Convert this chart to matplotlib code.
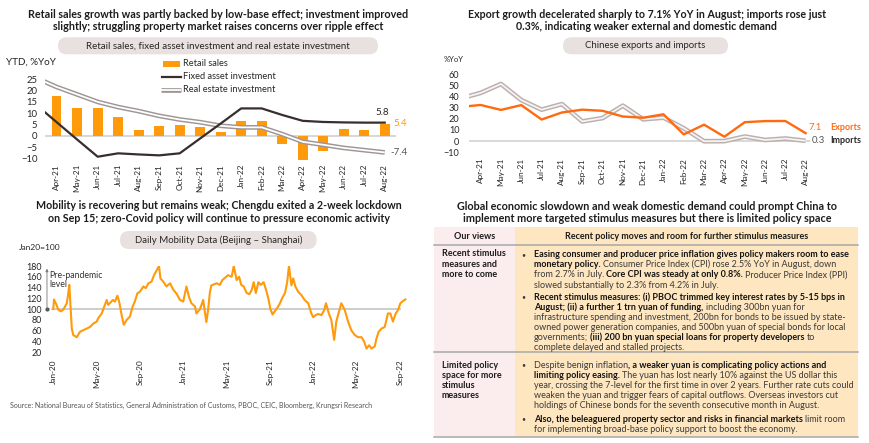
import matplotlib
matplotlib.use('Agg')
import matplotlib.pyplot as plt
import matplotlib.dates as mdates
from matplotlib.patches import FancyBboxPatch, Rectangle
from matplotlib.lines import Line2D
from matplotlib.transforms import IdentityTransform
import numpy as np
import pandas as pd

plt.rcParams['font.family'] = ['Lato', 'DejaVu Sans']

# ---------------- data ----------------
months_a = ['Apr-21', 'May-21', 'Jun-21', 'Jul-21', 'Aug-21', 'Sep-21', 'Oct-21', 'Nov-21',
            'Dec-21', 'Jan-22', 'Feb-22', 'Mar-22', 'Apr-22', 'May-22', 'Jun-22', 'Jul-22', 'Aug-22']
line_months = ['Mar-21'] + months_a

retail_sales = [17.7, 12.4, 12.1, 8.5, 2.5, 4.4, 4.9, 3.9, 1.7, 6.7, 6.7, -3.5, -10.8, -6.7, 3.1, 2.7, 5.4]
fixed_asset_inv = [13.7, 6.0, -1.7, -9.3, -7.8, -8.3, -8.7, -7.8, -1.2, 5.4, 12.1, 12.1, 9.2, 6.6, 6.1, 5.9, 5.8, 5.8]
real_estate_inv = [25.6, 21.6, 18.3, 15.0, 12.7, 10.9, 8.8, 7.2, 6.0, 4.4, 3.7, 3.7, 0.7, -2.7, -4.0, -5.4, -6.4, -7.4]

exports = [30.6, 32.3, 27.9, 32.2, 19.3, 25.6, 28.1, 27.1, 22.0, 20.9, 24.0, 6.0, 14.7, 3.9, 16.9, 17.9, 18.0, 7.1]
imports = [38.1, 43.1, 51.1, 36.7, 28.1, 33.1, 17.6, 20.6, 31.7, 19.5, 21.0, 11.5, -0.1, 0.0, 4.1, 1.0, 2.3, 0.3]

mob_dates = [
    '2020-01-01', '2020-01-03', '2020-01-10', '2020-01-15', '2020-01-22', '2020-01-29', '2020-02-08',
    '2020-02-12', '2020-02-15', '2020-02-19', '2020-02-22', '2020-02-26', '2020-03-07', '2020-03-16',
    '2020-03-25', '2020-04-04', '2020-04-13', '2020-04-22', '2020-05-02', '2020-05-06', '2020-05-16',
    '2020-05-20', '2020-05-25', '2020-05-30', '2020-06-03', '2020-06-08', '2020-06-16', '2020-06-22',
    '2020-06-29', '2020-07-04', '2020-07-11', '2020-07-17', '2020-07-25', '2020-08-03', '2020-08-11',
    '2020-08-17', '2020-08-24', '2020-08-31', '2020-09-10', '2020-09-17', '2020-09-24', '2020-10-03',
    '2020-10-10', '2020-10-15', '2020-10-24', '2020-10-28', '2020-11-05', '2020-11-14', '2020-11-24',
    '2020-12-03', '2020-12-12', '2020-12-22', '2020-12-31', '2021-01-09', '2021-01-16', '2021-01-23',
    '2021-02-02', '2021-02-06', '2021-02-16', '2021-02-25', '2021-03-04', '2021-03-06', '2021-03-11',
    '2021-03-16', '2021-03-20', '2021-04-04', '2021-04-13', '2021-04-20', '2021-05-06', '2021-05-16',
    '2021-05-22', '2021-05-30', '2021-06-06', '2021-06-12', '2021-06-19', '2021-06-27', '2021-07-05',
    '2021-07-11', '2021-07-17', '2021-07-23', '2021-07-30', '2021-08-06', '2021-08-14', '2021-08-21',
    '2021-08-27', '2021-09-02', '2021-09-08', '2021-09-13', '2021-09-21', '2021-09-28', '2021-10-06',
    '2021-10-13', '2021-10-19', '2021-10-24', '2021-10-31', '2021-11-05', '2021-11-11', '2021-11-19',
    '2021-11-28', '2021-12-07', '2021-12-17', '2021-12-26', '2021-12-31', '2022-01-07', '2022-01-14',
    '2022-01-23', '2022-01-31', '2022-02-05', '2022-02-13', '2022-02-20', '2022-02-28', '2022-03-06',
    '2022-03-20', '2022-03-30', '2022-04-08', '2022-04-17', '2022-04-27', '2022-05-06', '2022-05-16',
    '2022-05-23', '2022-05-30', '2022-06-06', '2022-06-13', '2022-06-22', '2022-06-27', '2022-07-03',
    '2022-07-11', '2022-07-20', '2022-07-29', '2022-08-05', '2022-08-12', '2022-08-20', '2022-08-26',
    '2022-09-02', '2022-09-09', '2022-09-16']
mob_values = [
    100, 118, 108, 99, 96, 99, 111,
    129, 145, 99, 64, 52, 48, 58,
    61, 64, 67, 73, 77, 83, 92,
    99, 108, 117, 108, 111, 117, 114,
    125, 114, 89, 71, 80, 86, 105,
    114, 129, 132, 142, 139, 148, 151,
    163, 169, 180, 157, 151, 142, 148,
    136, 129, 117, 114, 142, 123, 111,
    105, 92, 100, 117, 86, 76, 99,
    132, 144, 148, 145, 154, 163, 160,
    180, 154, 160, 145, 142, 130, 128,
    135, 150, 130, 150, 145, 150, 135,
    120, 100, 90, 95, 102, 110, 122,
    130, 150, 180, 144, 157, 142, 132,
    126, 117, 111, 92, 85, 89, 91,
    89, 98, 111, 92, 80, 43, 77,
    111, 98, 77, 61, 52, 48, 48,
    40, 27, 33, 27, 31, 46, 58,
    64, 67, 92, 92, 77, 92, 98,
    111, 115, 118]
mob_ref_level = 100
mob_ticks = ['Jan-20', 'May-20', 'Sep-20', 'Jan-21', 'May-21', 'Sep-21', 'Jan-22', 'May-22', 'Sep-22']

titles = {
    'tl': ['Retail sales growth was partly backed by low-base effect; investment improved',
           'slightly; struggling property market raises concerns over ripple effect'],
    'tr': ['Export growth decelerated sharply to 7.1% YoY in August; imports rose just',
           '0.3%, indicating weaker external and domestic demand'],
    'bl': ['Mobility is recovering but remains weak; Chengdu exited a 2-week lockdown',
           'on Sep 15; zero-Covid policy will continue to pressure economic activity'],
    'br': ['Global economic slowdown and weak domestic demand could prompt China to',
           'implement more targeted stimulus measures but there is limited policy space'],
}

table_header = ['Our views', 'Recent policy moves and room for further stimulus measures']
row1_view = ['Recent stimulus', 'measures and', 'more to come']
row2_view = ['Limited policy', 'space for more', 'stimulus', 'measures']
row1_lines = [
    [('Easing consumer and producer price inflation gives policy makers room to ease', True)],
    [('monetary policy.', True), (' Consumer Price Index (CPI) rose 2.5% YoY in August, down', False)],
    [('from 2.7% in July. ', False), ('Core CPI was steady at only 0.8%.', True), (' Producer Price Index (PPI)', False)],
    [('slowed substantially to 2.3% from 4.2% in July.', False)],
    [('Recent stimulus measures: (i) PBOC trimmed key interest rates by 5-15 bps in', True)],
    [('August; (ii) a further 1 trn yuan of funding,', True), (' including 300bn yuan for', False)],
    [('infrastructure spending and investment, 200bn for bonds to be issued by state-', False)],
    [('owned power generation companies, and 500bn yuan of special bonds for local', False)],
    [('governments; ', False), ('(iii) 200 bn yuan special loans for property developers', True), (' to', False)],
    [('complete delayed and stalled projects.', False)],
]
row1_bullets = [0, 4]
row2_lines = [
    [('Despite benign inflation', False), (', a weaker yuan is complicating policy actions and', True)],
    [('limiting policy easing.', True), (' The yuan has lost nearly 10% against the US dollar this', False)],
    [('year, crossing the 7-level for the first time in over 2 years. Further rate cuts could', False)],
    [('weaken the yuan and trigger fears of capital outflows. Overseas investors cut', False)],
    [('holdings of Chinese bonds for the seventh consecutive month in August.', False)],
    [('Also, the beleaguered property sector and risks in financial markets', True), (' limit room', False)],
    [('for implementing broad-base policy support to boost the economy.', False)],
]
row2_bullets = [0, 5]
source_text = ('Source: National Bureau of Statistics, General Administration of Customs, PBOC, CEIC, '
               'Bloomberg, Krungsri Research')

# ---------------- style ----------------
W, H = 870, 443
ORANGE = '#FF9A0A'
EXP_ORANGE = '#FF6A10'
DARK = '#3a2d2e'
GREY_OUT = '#a09595'
PILL = '#e9e1e0'
TXT = '#1c1c1c'

fig = plt.figure(figsize=(W / 100, H / 100), dpi=100)
fig.patch.set_facecolor('white')
renderer = fig.canvas.get_renderer()


def fy(y):
    return 1 - y / H


def twidth(s, size, weight='normal'):
    t = fig.text(0, 0, s, fontsize=size, fontweight=weight)
    w = t.get_window_extent(renderer).width
    t.remove()
    return w


def fit(s, width, weight='normal'):
    return 10 * width / twidth(s, 10, weight)


def ptext(x, y, s, size, weight='normal', color=TXT, ha='left', va='center', **kw):
    return fig.text(x / W, fy(y), s, fontsize=size, fontweight=weight, color=color, ha=ha, va=va, **kw)


def title(lines, cx, ys, width):
    fs = fit(lines[0], width, 'bold')
    for s, y in zip(lines, ys):
        ptext(cx, y, s, fs, 'bold', ha='center')


def pill(x0, x1, y0, y1, s, width):
    h = y1 - y0
    p = FancyBboxPatch((x0, H - y1), x1 - x0, h, boxstyle=f'round,pad=0,rounding_size={h / 2}',
                       transform=IdentityTransform(), facecolor=PILL, edgecolor='none')
    fig.add_artist(p)
    ptext((x0 + x1) / 2, (y0 + y1) / 2, s, fit(s, width), ha='center', color='#262626')


def add_ax(x0, y0, x1, y1):
    ax = fig.add_axes([x0 / W, 1 - y1 / H, (x1 - x0) / W, (y1 - y0) / H])
    ax.patch.set_alpha(0)
    for sp in ax.spines.values():
        sp.set_visible(False)
    ax.tick_params(length=0, colors='#262626')
    return ax


# ---------------- titles and pills ----------------
title(titles['tl'], 218.3, [14, 26], 378)
title(titles['tr'], 646.7, [14, 26], 360)
title(titles['bl'], 218.7, [206, 219], 367)
title(titles['br'], 647, [206.5, 218.7], 378)

pill(58, 378, 37.3, 54.3, 'Retail sales, fixed asset investment and real estate investment', 265)
pill(563, 728, 37.3, 54.3, 'Chinese exports and imports', 122)
pill(120, 316.7, 231, 249, 'Daily Mobility Data (Beijing \u2013 Shanghai)', 168)

# ---------------- top-left chart ----------------
ax1 = add_ax(45.4, 74.8, 396, 162.8)
xb = np.arange(len(months_a))
xl = np.arange(len(line_months)) - 1
ax1.axhline(0, color='#d3d3d3', lw=1.3, zorder=1)
ax1.bar(xb, retail_sales, width=0.47, color=ORANGE, zorder=2)
ax1.plot(xl, real_estate_inv, color=GREY_OUT, lw=3.4, zorder=3, solid_capstyle='butt')
ax1.plot(xl, real_estate_inv, color='white', lw=1.3, zorder=4, solid_capstyle='butt')
ax1.plot(xl, fixed_asset_inv, color=DARK, lw=1.6, zorder=5)
ax1.set_xlim(-0.55, 16.55)
ax1.set_ylim(-12, 27)
ax1.set_yticks(range(-10, 30, 5))
ax1.set_xticks(xb, months_a, rotation=90)
ax1.tick_params(axis='y', labelsize=6.8, pad=5.8)
ax1.tick_params(axis='x', labelsize=5.9, pad=0.8)

lfs = fit('Fixed asset investment', 93)
fig.add_artist(Rectangle((163.3, H - 67), 16.7, 6.5, transform=IdentityTransform(), facecolor=ORANGE, edgecolor='none'))
ptext(183, 63.7, 'Retail sales', lfs, color='#262626')
fig.add_artist(Line2D([162, 181], [H - 76.7, H - 76.7], transform=IdentityTransform(), color=DARK, lw=1.6))
ptext(183, 76.7, 'Fixed asset investment', lfs, color='#262626')
fig.add_artist(Line2D([161, 181], [H - 89.7, H - 89.7], transform=IdentityTransform(), color=GREY_OUT, lw=3.4, solid_capstyle='butt'))
fig.add_artist(Line2D([161, 181], [H - 89.7, H - 89.7], transform=IdentityTransform(), color='white', lw=1.3, solid_capstyle='butt'))
ptext(183, 89.7, 'Real estate investment', lfs, color='#262626')
ptext(6, 62, 'YTD, %YoY', fit('YTD, %YoY', 50), color='#262626')
afs = lfs * 1.05
ptext(382, 112.3, f'{fixed_asset_inv[-1]:.1f}', afs, ha='center', color='#262626')
ptext(393, 124, f'{retail_sales[-1]:.1f}', afs, color=ORANGE)
ptext(390, 152.7, f'{real_estate_inv[-1]:.1f}', afs, color='#555555')

# ---------------- top-right chart ----------------
ax2 = add_ax(469.3, 74, 809.7, 152.3)
ax2.axhline(0, color='#d3d3d3', lw=1.2, zorder=1)
ax2.plot(xl, imports, color='#bab0ae', lw=3.4, zorder=2, solid_capstyle='butt')
ax2.plot(xl, imports, color='#f7f3f2', lw=1.3, zorder=3, solid_capstyle='butt')
ax2.plot(xl, exports, color=EXP_ORANGE, lw=1.7, zorder=4)
ax2.set_xlim(-0.56, 16.2)
ax2.set_ylim(-10, 60)
ax2.set_yticks(range(-10, 70, 10))
ax2.set_xticks(xb, months_a, rotation=90)
ax2.tick_params(axis='y', labelsize=6.6, pad=7.2)
ax2.tick_params(axis='x', labelsize=5.9, pad=4)
ptext(443.3, 60, '%YoY', fit('%YoY', 20), color='#262626')
efs = fit('Exports', 31, 'bold')
ptext(808, 127.3, f'{exports[-1]:.1f}', efs * 1.05, color=EXP_ORANGE)
ptext(830, 127.3, 'Exports', efs, 'bold', color=EXP_ORANGE)
ptext(812, 140.7, f'{imports[-1]:.1f}', efs * 1.05, color='#555555')
ptext(830, 140.7, 'Imports', efs, 'bold', color='#262626')

# ---------------- bottom-left chart ----------------
ax3 = add_ax(50.8, 266, 407.5, 352.3)
md = pd.to_datetime(mob_dates)
ax3.hlines(mob_ref_level, pd.Timestamp('2019-12-24'), pd.Timestamp('2022-09-05'), color='#c9c9c9', lw=1.3, zorder=1)
ax3.plot(md, mob_values, color=ORANGE, lw=1.5, zorder=3)
ax3.set_xlim(pd.Timestamp('2019-12-25'), pd.Timestamp('2022-09-22'))
ax3.set_ylim(20, 180)
ax3.set_yticks(range(20, 200, 20))
ax3.set_xticks(pd.to_datetime(mob_ticks, format='%b-%y'), mob_ticks, rotation=90)
ax3.tick_params(axis='y', labelsize=6.4, pad=6.5)
ax3.tick_params(axis='x', labelsize=5.9, pad=5)
ytr = ax3.get_yaxis_transform()
ax3.annotate('', xy=(-0.0107, 175), xytext=(-0.0107, 101), xycoords=ytr, textcoords=ytr,
             arrowprops=dict(arrowstyle='-|>', color='#777777', lw=0.6, mutation_scale=4,
                             shrinkA=0, shrinkB=0), annotation_clip=False)
ax3.plot([-0.0107], [mob_ref_level], marker='o', ms=2, color='#555555', transform=ytr, clip_on=False)
pfs = fit('Pre-pandemic', 54)
ax3.text(-0.004, 171, 'Pre-pandemic\nlevel', transform=ytr, fontsize=pfs, color='#333333',
         va='top', ha='left', linespacing=1.0)
ptext(19.3, 247.3, 'Jan20=100', fit('Jan20=100', 41.7), color='#262626')

ptext(10, 405, source_text, fit(source_text, 363), color='#555555')

# ---------------- table ----------------
TL, TM, TR = 434, 515, 858
Y0, Y1, Y2, Y3 = 227, 245, 352, 437.3
PINK, PEACH = '#fbeded', '#fde6c0'
for (x0, x1, c) in [(TL, TM, PINK), (TM, TR, PEACH)]:
    fig.add_artist(Rectangle((x0, H - Y3), x1 - x0, Y3 - Y0, transform=IdentityTransform(),
                             facecolor=c, edgecolor='none', zorder=0))
for yl in (Y1, Y2, Y3):
    fig.add_artist(Line2D([TL, TR], [H - yl, H - yl], transform=IdentityTransform(), color='#a8a8a8', lw=1.1))

tfs = fit(row1_lines[0][0][0], 315, 'bold')
ptext((TL + TM) / 2, 236.7, table_header[0], tfs, 'bold', ha='center')
ptext(687, 236.7, table_header[1], tfs, 'bold', ha='center')

sp_w = {w: twidth('a a', tfs, w) - twidth('aa', tfs, w) for w in ('normal', 'bold')}


def draw_runs(x0, y, runs):
    x = x0
    for txt, bold in runs:
        w = 'bold' if bold else 'normal'
        core = txt.strip(' ')
        lead = len(txt) - len(txt.lstrip(' '))
        trail = len(txt) - len(txt.rstrip(' '))
        x += lead * sp_w[w]
        t = ptext(x, y + 2.9, core, tfs, w, color='#141414' if bold else '#3a3a3a', va='baseline')
        x += t.get_window_extent(renderer).width + trail * sp_w[w]


def draw_block(lines, ys, bullets):
    for i, (runs, y) in enumerate(zip(lines, ys)):
        if i in bullets:
            ptext(523.3, y, '\u2022', tfs * 0.8, color='#3a3a3a', ha='center')
        draw_runs(534, y, runs)


draw_block(row1_lines, [254.3, 264.3, 274.5, 285, 296.7, 306.8, 317.0, 326.8, 336.6, 346.7], row1_bullets)
draw_block(row2_lines, [364.7, 374.6, 384.9, 395.3, 405.6, 418.8, 429.1], row2_bullets)
for s, y in zip(row1_view, [253.6, 264, 274.3]):
    ptext(442, y + 2.9, s, tfs, 'bold', va='baseline')
for s, y in zip(row2_view, [364.7, 375, 385.3, 395.3]):
    ptext(442, y + 2.9, s, tfs, 'bold', va='baseline')

fig.savefig('out.png', dpi=100, facecolor='white')
